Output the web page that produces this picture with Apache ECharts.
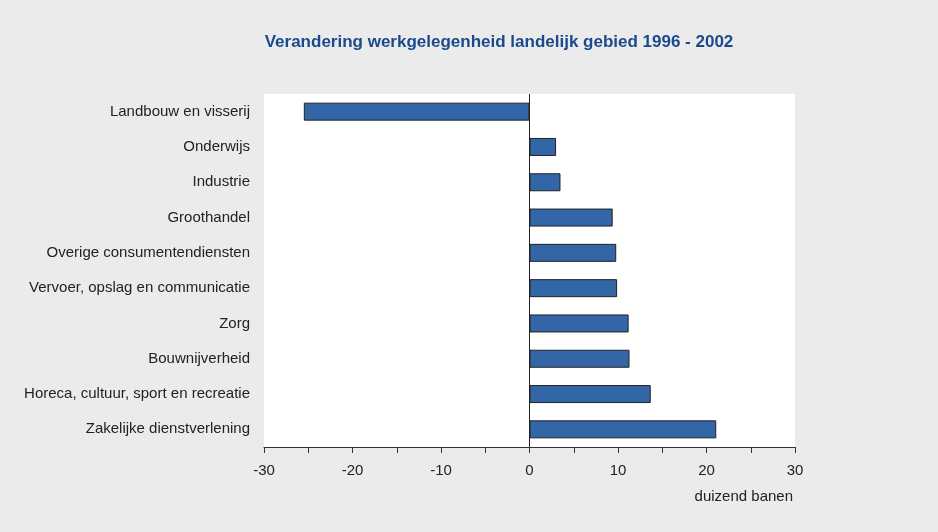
<!DOCTYPE html>
<html>
<head>
<meta charset="utf-8">
<script src="https://cdn.jsdelivr.net/npm/echarts@6/dist/echarts.min.js"></script>
<style>
html,body{margin:0;padding:0;background:#ebebeb;}
#chart{width:938px;height:532px;}
</style>
</head>
<body>
<div id="chart"></div>
<script>
var titleText = 'Verandering werkgelegenheid landelijk gebied 1996 - 2002';
var unitLabel = 'duizend banen';
var categories = [
  'Landbouw en visserij',
  'Onderwijs',
  'Industrie',
  'Groothandel',
  'Overige consumentendiensten',
  'Vervoer, opslag en communicatie',
  'Zorg',
  'Bouwnijverheid',
  'Horeca, cultuur, sport en recreatie',
  'Zakelijke dienstverlening'
];
var values = [-25.5, 3.0, 3.5, 9.4, 9.8, 9.9, 11.2, 11.3, 13.7, 21.1];
var xMin = -30, xMax = 30, tickStep = 5, labelStep = 10;

var font = '"Liberation Sans", Arial, sans-serif';
var chart = echarts.init(document.getElementById('chart'));
chart.setOption({
  backgroundColor: '#ebebeb',
  animation: false,
  title: [{
    text: titleText,
    left: 499,
    top: 34,
    textAlign: 'center',
    padding: 0,
    textStyle: {color: '#1a4a8c', fontSize: 17, fontWeight: 'bold', fontFamily: font}
  }, {
    text: unitLabel,
    right: 145,
    top: 489,
    padding: 0,
    textStyle: {color: '#222', fontSize: 15, fontWeight: 'normal', fontFamily: font}
  }],
  grid: {
    left: 264, right: 143, top: 94, bottom: 85,
    show: true, backgroundColor: '#ffffff', borderWidth: 0
  },
  xAxis: {
    type: 'value',
    min: xMin, max: xMax, interval: tickStep,
    axisLine: {show: true, onZero: false, lineStyle: {color: '#333', width: 1}},
    axisTick: {show: true, length: 6, lineStyle: {color: '#333'}},
    splitLine: {show: false},
    axisLabel: {
      color: '#222', fontSize: 15, fontFamily: font, margin: 16,
      formatter: function (v) { return v % labelStep === 0 ? String(v) : ''; }
    }
  },
  yAxis: {
    type: 'category',
    data: categories,
    inverse: true,
    axisLine: {show: false},
    axisTick: {show: false},
    splitLine: {show: false},
    axisLabel: {color: '#222', fontSize: 15, fontFamily: font, margin: 14, padding: [3, 0, 0, 0]}
  },
  series: [{
    type: 'bar',
    data: values,
    barWidth: '51%',
    itemStyle: {color: '#3366a6', borderColor: '#222', borderWidth: 1},
    markLine: {
      silent: true,
      symbol: 'none',
      label: {show: false},
      lineStyle: {color: '#222', type: 'solid', width: 1},
      data: [{xAxis: 0}]
    }
  }]
});
</script>
</body>
</html>
